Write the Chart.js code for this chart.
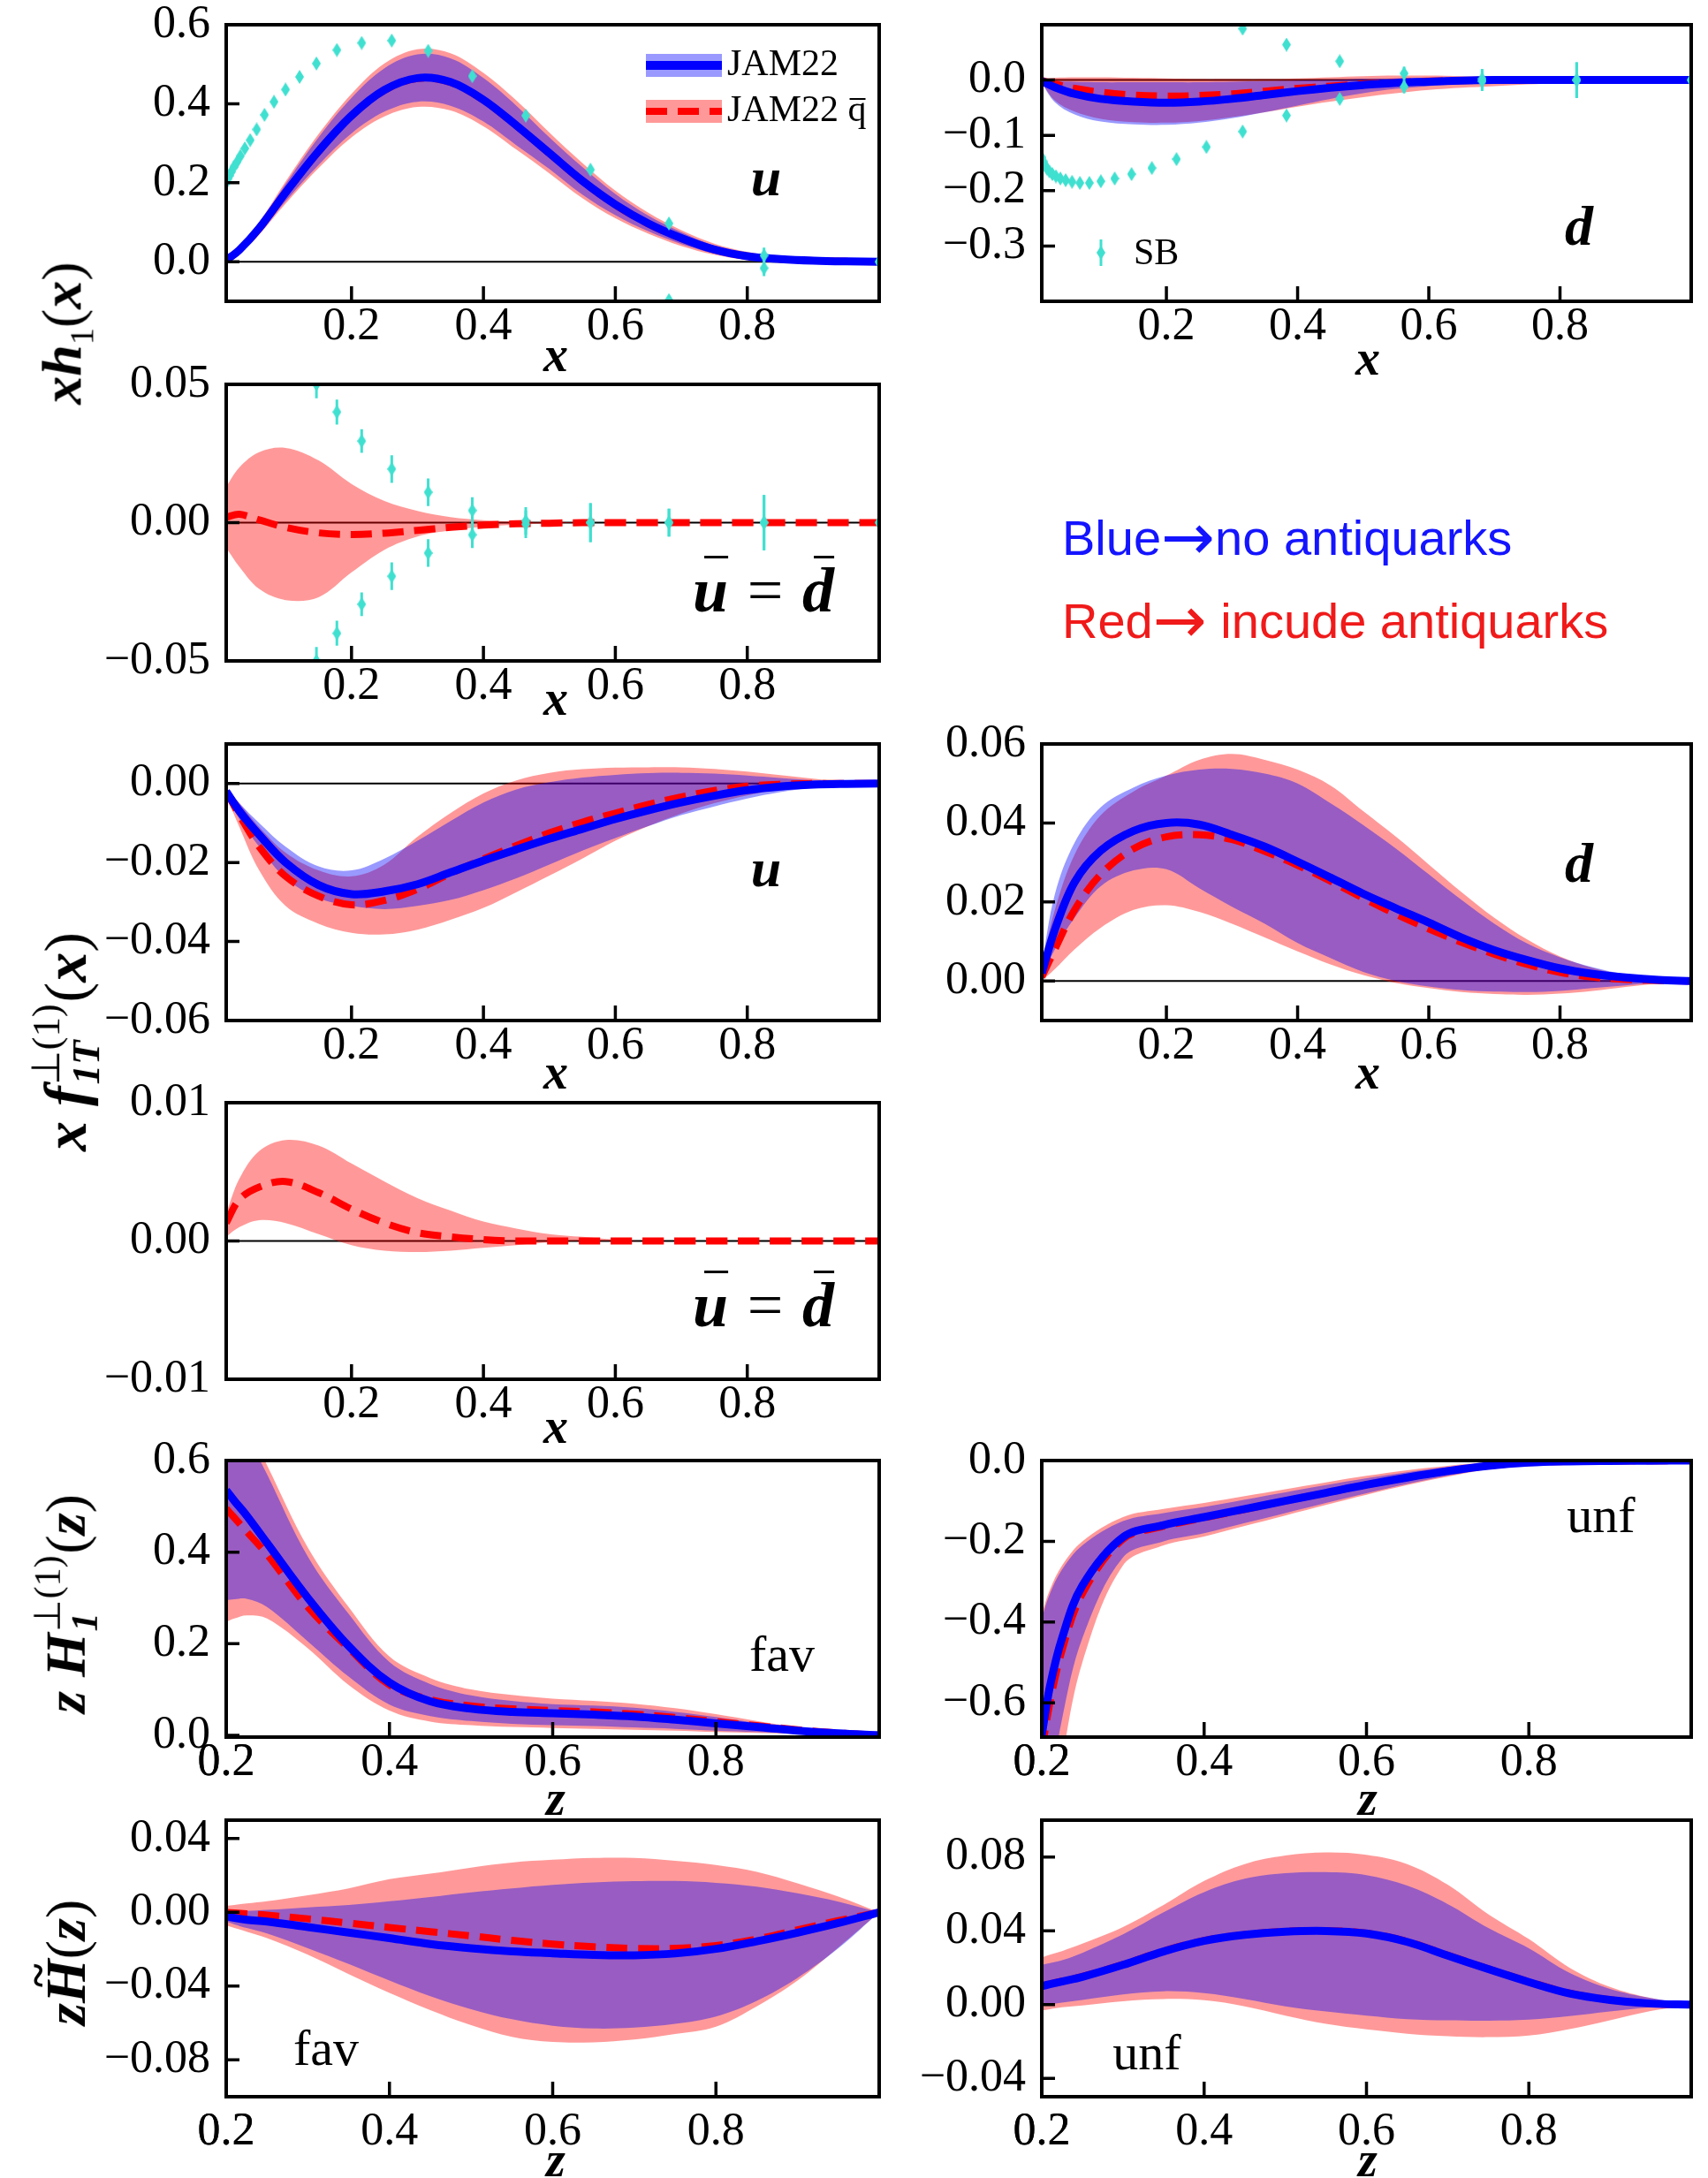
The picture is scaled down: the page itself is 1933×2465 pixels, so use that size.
<!DOCTYPE html>
<html>
<head>
<meta charset="utf-8">
<title>JAM22 transversity, Sivers and Collins functions</title>
<script src="https://cdn.jsdelivr.net/npm/chart.js@4.4.0/dist/chart.umd.min.js"></script>
<style>
  html, body { margin: 0; padding: 0; background: #fff; }
  body { position: relative; width: 1933px; height: 2465px; overflow: hidden; font-family: 'Liberation Serif', serif; }
  canvas.panel { position: absolute; }
  .t { position: absolute; transform: translate(-50%, -50%); white-space: nowrap; color: #000; line-height: 1; z-index: 2; }
  .mi { font-style: italic; font-weight: bold; }
  .yt { transform: translate(-50%, -50%) rotate(-90deg); font-size: 64px; }
  .ss { display: inline-block; vertical-align: -0.34em; font-size: 0.66em; line-height: 1.0; margin: 0 0.04em; }
  .ss span { display: block; }
  .bar { position: relative; display: inline-block; }
  .bar::before { content: ''; position: absolute; left: 0.18em; right: 0.0em; top: -0.04em; border-top: 0.055em solid #000; }
  .tl { position: relative; display: inline-block; }
  .tl::after { content: '~'; position: absolute; left: 0.32em; top: -0.5em; font-size: 0.8em; }
  .note { position: absolute; font-family: 'Liberation Sans', Arial, sans-serif; font-size: 56px; line-height: 1; transform: translateY(-50%); white-space: nowrap; }
  .arr { font-family: 'DejaVu Sans', sans-serif; font-size: 1.3em; line-height: 0.8; vertical-align: -0.06em; }
</style>
</head>
<body>

<!-- left-hand function labels -->
<div class="t yt" style="left:75px;top:377px"><span class="mi">xh</span><sub style="font-size:0.6em">1</sub>(<span class="mi">x</span>)</div>
<div class="t yt" style="left:75px;top:1179px;font-size:68px"><span class="mi">x f</span><span class="ss"><span>⊥(1)</span><span class="mi">1T</span></span>(<span class="mi">x</span>)</div>
<div class="t yt" style="left:75px;top:1815px"><span class="mi">z H</span><span class="ss"><span>⊥(1)</span><span class="mi">1</span></span>(<span class="mi">z</span>)</div>
<div class="t yt" style="left:75px;top:2221px"><span class="mi">z</span><span class="mi tl">H</span>(<span class="mi">z</span>)</div>

<!-- axis titles -->
<div class="t mi" style="left:629px;top:401px;font-size:56px">x</div>
<div class="t mi" style="left:1548px;top:405px;font-size:56px">x</div>
<div class="t mi" style="left:629px;top:790px;font-size:56px">x</div>
<div class="t mi" style="left:629px;top:1213px;font-size:56px">x</div>
<div class="t mi" style="left:1548px;top:1213px;font-size:56px">x</div>
<div class="t mi" style="left:629px;top:1614px;font-size:56px">x</div>
<div class="t mi" style="left:629px;top:2035px;font-size:56px">z</div>
<div class="t mi" style="left:1548px;top:2035px;font-size:56px">z</div>
<div class="t mi" style="left:629px;top:2444px;font-size:56px">z</div>
<div class="t mi" style="left:1548px;top:2444px;font-size:56px">z</div>

<!-- flavour tags inside panels -->
<div class="t mi" style="left:867px;top:200px;font-size:62px">u</div>
<div class="t mi" style="left:1787px;top:256px;font-size:64px">d</div>
<div class="t" style="left:864px;top:668px;font-size:72px"><span class="mi bar">u</span><span style="margin:0 0.3em">=</span><span class="mi bar">d</span></div>
<div class="t mi" style="left:867px;top:982px;font-size:62px">u</div>
<div class="t mi" style="left:1787px;top:977px;font-size:64px">d</div>
<div class="t" style="left:864px;top:1477px;font-size:72px"><span class="mi bar">u</span><span style="margin:0 0.3em">=</span><span class="mi bar">d</span></div>
<div class="t" style="left:885px;top:1872px;font-size:58px">fav</div>
<div class="t" style="left:1812px;top:1715px;font-size:58px">unf</div>
<div class="t" style="left:369px;top:2318px;font-size:58px">fav</div>
<div class="t" style="left:1298px;top:2323px;font-size:58px">unf</div>

<div class="note" style="left:1202px;top:608px;color:#1414ff">Blue<span class="arr">→</span>no antiquarks</div>
<div class="note" style="left:1202px;top:702px;color:#f01a1a">Red<span class="arr">→</span> incude antiquarks</div>

<script>
// ---- sampling grids ----
const xGrid = [0.01, 0.03, 0.06, 0.1, 0.15, 0.2, 0.25, 0.3, 0.35, 0.4, 0.45, 0.5, 0.55, 0.6, 0.65, 0.7, 0.75, 0.8, 0.85, 0.9, 0.95, 1.0];
const zGrid = [0.2, 0.21, 0.225, 0.25, 0.3, 0.35, 0.4, 0.45, 0.5, 0.55, 0.6, 0.65, 0.7, 0.75, 0.8, 0.85, 0.9, 0.95, 1.0];

// ---- transversity x h1(x), u ----
const h1uBlue   = [0.004, 0.03, 0.085, 0.175, 0.28, 0.37, 0.435, 0.465, 0.455, 0.41, 0.345, 0.275, 0.205, 0.145, 0.097, 0.06, 0.031, 0.014, 0.007, 0.003, 0.001, 0];
const h1uBlueHi = [0.006, 0.036, 0.097, 0.197, 0.315, 0.415, 0.49, 0.525, 0.515, 0.465, 0.395, 0.315, 0.24, 0.172, 0.117, 0.075, 0.041, 0.021, 0.012, 0.006, 0.003, 0.001];
const h1uBlueLo = [0.002, 0.024, 0.073, 0.153, 0.245, 0.325, 0.38, 0.405, 0.395, 0.355, 0.295, 0.235, 0.17, 0.118, 0.077, 0.045, 0.021, 0.007, 0.002, 0, -0.001, -0.001];
const h1uRed    = [0.004, 0.03, 0.084, 0.174, 0.279, 0.369, 0.434, 0.464, 0.454, 0.409, 0.344, 0.274, 0.204, 0.144, 0.096, 0.059, 0.031, 0.014, 0.007, 0.003, 0.001, 0];
const h1uRedHi  = [0.007, 0.038, 0.1, 0.203, 0.323, 0.425, 0.502, 0.538, 0.528, 0.478, 0.408, 0.327, 0.25, 0.18, 0.124, 0.08, 0.046, 0.025, 0.014, 0.008, 0.004, 0.001];
const h1uRedLo  = [0.001, 0.022, 0.069, 0.147, 0.237, 0.315, 0.368, 0.392, 0.383, 0.343, 0.284, 0.224, 0.161, 0.11, 0.071, 0.04, 0.018, 0.005, 0, -0.002, -0.002, -0.001];

// ---- transversity, d ----
const h1dBlue   = [-0.002, -0.013, -0.025, -0.034, -0.039, -0.041, -0.039, -0.034, -0.027, -0.02, -0.014, -0.009, -0.005, -0.003, -0.001, 0, 0, 0, 0, 0, 0, 0];
const h1dBlueHi = [0, -0.002, -0.003, -0.004, -0.004, -0.004, -0.004, -0.003, -0.002, -0.001, 0, 0.002, 0.003, 0.004, 0.004, 0.004, 0.003, 0.003, 0.002, 0.001, 0.001, 0];
const h1dBlueLo = [-0.006, -0.04, -0.062, -0.075, -0.08, -0.081, -0.077, -0.069, -0.058, -0.046, -0.034, -0.024, -0.016, -0.011, -0.007, -0.005, -0.004, -0.003, -0.002, -0.002, -0.001, 0];
const h1dRed    = [-0.001, -0.007, -0.015, -0.022, -0.027, -0.029, -0.028, -0.025, -0.02, -0.015, -0.011, -0.007, -0.004, -0.002, -0.001, 0, 0, 0, 0, 0, 0, 0];
const h1dRedHi  = [0.002, 0.004, 0.005, 0.005, 0.004, 0.003, 0.002, 0.002, 0.002, 0.003, 0.005, 0.007, 0.008, 0.008, 0.007, 0.006, 0.005, 0.004, 0.003, 0.002, 0.001, 0];
const h1dRedLo  = [-0.005, -0.037, -0.057, -0.07, -0.076, -0.077, -0.074, -0.067, -0.058, -0.048, -0.039, -0.031, -0.024, -0.018, -0.014, -0.011, -0.008, -0.006, -0.004, -0.003, -0.001, 0];

// ---- transversity, sea (ubar = dbar) ----
const h1sRed    = [0.002, 0.003, 0.001, -0.0017, -0.0037, -0.0043, -0.0038, -0.0028, -0.0017, -0.0009, -0.0004, -0.0002, 0, 0, 0, 0, 0, 0, 0, 0, 0, 0];
const h1sRedHi  = [0.013, 0.02, 0.0255, 0.027, 0.0225, 0.014, 0.0078, 0.0042, 0.002, 0.0009, 0.0004, 0.0002, 0.0001, 0, 0, 0, 0, 0, 0, 0, 0, 0];
const h1sRedLo  = [-0.009, -0.016, -0.024, -0.028, -0.027, -0.018, -0.0098, -0.005, -0.0028, -0.0014, -0.0007, -0.0003, -0.0001, 0, 0, 0, 0, 0, 0, 0, 0, 0];

// ---- Soffer bound points (plotted as +/-) ----
const sbX    = [0.0100, 0.0121, 0.0147, 0.0178, 0.0215, 0.0261, 0.0316, 0.0383, 0.0464, 0.0562, 0.0681, 0.0825, 0.1000, 0.1212, 0.1468, 0.1778, 0.2154, 0.2610, 0.3162, 0.3831, 0.4642, 0.5623, 0.6813, 0.8254, 1.0000];
const sbU    = [0.2, 0.21, 0.218, 0.228, 0.24, 0.252, 0.268, 0.287, 0.308, 0.335, 0.372, 0.405, 0.436, 0.468, 0.502, 0.536, 0.554, 0.56, 0.534, 0.47, 0.37, 0.233, 0.097, 0.016, 0];
const sbUErr = [0.003, 0.003, 0.003, 0.003, 0.003, 0.003, 0.003, 0.003, 0.003, 0.003, 0.003, 0.003, 0.003, 0.003, 0.003, 0.003, 0.004, 0.004, 0.005, 0.005, 0.006, 0.007, 0.008, 0.02, 0.005];
const sbD    = [0.14, 0.147, 0.154, 0.16, 0.165, 0.17, 0.174, 0.178, 0.181, 0.184, 0.186, 0.186, 0.183, 0.178, 0.17, 0.159, 0.143, 0.121, 0.093, 0.064, 0.034, 0.012, 0.002, 0.0005, 0];
const sbDErr = [0.003, 0.003, 0.003, 0.003, 0.003, 0.003, 0.003, 0.003, 0.003, 0.003, 0.003, 0.003, 0.003, 0.004, 0.004, 0.004, 0.005, 0.005, 0.006, 0.007, 0.008, 0.012, 0.018, 0.032, 0.01];
const sbS    = [null, null, null, null, null, null, null, null, null, null, null, null, null, null, 0.05, 0.04, 0.0295, 0.0194, 0.011, 0.0044, 0.0006, 0, 0, 0, 0];
const sbSErr = [0, 0, 0, 0, 0, 0, 0, 0, 0, 0, 0, 0, 0, 0, 0.005, 0.0045, 0.0043, 0.005, 0.005, 0.0048, 0.005, 0.007, 0.005, 0.01, 0.002];

// ---- Sivers x f1T(1)(x), u ----
const f1uBlue   = [-0.002, -0.007, -0.013, -0.02, -0.0257, -0.028, -0.0273, -0.0255, -0.0225, -0.0195, -0.0167, -0.014, -0.0115, -0.009, -0.0068, -0.0048, -0.0031, -0.0017, -0.0008, -0.0003, -0.0001, 0];
const f1uBlueHi = [-0.001, -0.005, -0.01, -0.016, -0.021, -0.022, -0.019, -0.0145, -0.0095, -0.0048, -0.0015, 0.0003, 0.0015, 0.0022, 0.0026, 0.0027, 0.0025, 0.002, 0.0014, 0.0008, 0.0003, 0];
const f1uBlueLo = [-0.003, -0.009, -0.016, -0.024, -0.029, -0.031, -0.0318, -0.031, -0.0295, -0.027, -0.024, -0.0205, -0.017, -0.0138, -0.0108, -0.008, -0.0058, -0.0038, -0.0022, -0.001, -0.0004, 0];
const f1uRed    = [-0.002, -0.008, -0.016, -0.0235, -0.0285, -0.0307, -0.0296, -0.0268, -0.0228, -0.0191, -0.0157, -0.0125, -0.0098, -0.0075, -0.0053, -0.0034, -0.0018, -0.0007, -0.0002, 0, 0, 0];
const f1uRedHi  = [-0.001, -0.005, -0.011, -0.0175, -0.022, -0.0235, -0.0205, -0.0135, -0.0075, -0.0025, 0.0008, 0.0027, 0.0036, 0.004, 0.0041, 0.0041, 0.0037, 0.003, 0.0021, 0.0012, 0.0004, 0];
const f1uRedLo  = [-0.003, -0.011, -0.022, -0.031, -0.0355, -0.0378, -0.0382, -0.037, -0.0345, -0.0315, -0.0275, -0.0233, -0.019, -0.0145, -0.0108, -0.0076, -0.005, -0.003, -0.0016, -0.0007, -0.0002, 0];

// ---- Sivers, d ----
const f1dBlue   = [0.002, 0.013, 0.025, 0.033, 0.038, 0.04, 0.0396, 0.037, 0.034, 0.0302, 0.0262, 0.0221, 0.0184, 0.0148, 0.011, 0.0078, 0.0053, 0.0032, 0.0018, 0.0009, 0.0003, 0];
const f1dBlueHi = [0.004, 0.022, 0.035, 0.044, 0.049, 0.052, 0.0535, 0.0537, 0.0525, 0.05, 0.045, 0.0395, 0.0335, 0.027, 0.0205, 0.0145, 0.0095, 0.006, 0.0035, 0.0017, 0.0006, 0];
const f1dBlueLo = [0.001, 0.008, 0.016, 0.024, 0.028, 0.0283, 0.0235, 0.0188, 0.0145, 0.0096, 0.0058, 0.0023, 0, -0.0014, -0.0023, -0.0027, -0.0028, -0.0025, -0.0018, -0.0011, -0.0004, 0];
const f1dRed    = [0.001, 0.008, 0.018, 0.027, 0.0335, 0.0365, 0.037, 0.0358, 0.0328, 0.0293, 0.0253, 0.021, 0.0169, 0.0132, 0.0098, 0.0068, 0.0042, 0.0022, 0.001, 0.0004, 0.0001, 0];
const f1dRedHi  = [0.004, 0.018, 0.032, 0.042, 0.048, 0.052, 0.056, 0.0575, 0.056, 0.0535, 0.0495, 0.043, 0.0365, 0.0295, 0.0225, 0.016, 0.0105, 0.0062, 0.0033, 0.0015, 0.0005, 0];
const f1dRedLo  = [0, 0.003, 0.008, 0.0135, 0.018, 0.0192, 0.0175, 0.0145, 0.011, 0.0075, 0.0042, 0.0015, -0.0005, -0.0018, -0.0028, -0.0033, -0.0035, -0.0032, -0.0025, -0.0015, -0.0006, 0];

// ---- Sivers, sea ----
const f1sRed    = [0.0013, 0.003, 0.0039, 0.0043, 0.0035, 0.0023, 0.0013, 0.0006, 0.0003, 0.0001, 0, 0, 0, 0, 0, 0, 0, 0, 0, 0, 0, 0];
const f1sRedHi  = [0.002, 0.0045, 0.0065, 0.0073, 0.0069, 0.0056, 0.0043, 0.0031, 0.0022, 0.0014, 0.0009, 0.0005, 0.0003, 0.0001, 0, 0, 0, 0, 0, 0, 0, 0];
const f1sRedLo  = [0.0003, 0.001, 0.0015, 0.0013, 0.0005, -0.0003, -0.0007, -0.0008, -0.0007, -0.0005, -0.0003, -0.0001, 0, 0, 0, 0, 0, 0, 0, 0, 0, 0];

// ---- Collins z H1(1)(z), favored ----
const hFavBlue   = [0.535, 0.512, 0.48, 0.42, 0.3, 0.195, 0.115, 0.074, 0.058, 0.051, 0.048, 0.045, 0.041, 0.034, 0.026, 0.018, 0.01, 0.004, 0];
const hFavBlueHi = [0.76, 0.72, 0.66, 0.57, 0.39, 0.265, 0.16, 0.112, 0.087, 0.075, 0.068, 0.065, 0.06, 0.051, 0.04, 0.027, 0.015, 0.006, 0];
const hFavBlueLo = [0.295, 0.297, 0.298, 0.28, 0.205, 0.128, 0.067, 0.042, 0.031, 0.025, 0.022, 0.02, 0.017, 0.014, 0.01, 0.007, 0.004, 0.001, 0];
const hFavRed    = [0.495, 0.475, 0.445, 0.395, 0.28, 0.19, 0.11, 0.078, 0.064, 0.058, 0.054, 0.051, 0.046, 0.039, 0.03, 0.021, 0.012, 0.005, 0];
const hFavRedHi  = [0.78, 0.74, 0.68, 0.59, 0.41, 0.28, 0.172, 0.125, 0.1, 0.088, 0.08, 0.075, 0.069, 0.059, 0.046, 0.031, 0.017, 0.007, 0];
const hFavRedLo  = [0.248, 0.255, 0.262, 0.255, 0.19, 0.11, 0.054, 0.03, 0.022, 0.018, 0.016, 0.014, 0.012, 0.01, 0.007, 0.005, 0.003, 0.001, 0];

// ---- Collins, unfavored ----
const hUnfBlue   = [-0.68, -0.56, -0.44, -0.31, -0.19, -0.16, -0.14, -0.12, -0.1, -0.08, -0.06, -0.042, -0.026, -0.013, -0.005, -0.002, -0.001, -0.0005, 0];
const hUnfBlueHi = [-0.39, -0.33, -0.27, -0.21, -0.15, -0.13, -0.115, -0.097, -0.079, -0.061, -0.044, -0.029, -0.016, -0.007, -0.002, -0.001, 0, 0, 0];
const hUnfBlueLo = [-0.95, -0.82, -0.64, -0.44, -0.24, -0.2, -0.18, -0.155, -0.13, -0.105, -0.081, -0.058, -0.038, -0.021, -0.01, -0.004, -0.002, -0.001, 0];
const hUnfRed    = [-0.72, -0.6, -0.47, -0.33, -0.195, -0.163, -0.142, -0.121, -0.1, -0.08, -0.06, -0.042, -0.026, -0.013, -0.005, -0.002, -0.001, -0.0005, 0];
const hUnfRedHi  = [-0.38, -0.32, -0.26, -0.2, -0.14, -0.12, -0.105, -0.088, -0.071, -0.054, -0.038, -0.024, -0.013, -0.005, -0.001, 0, 0, 0, 0];
const hUnfRedLo  = [-1.05, -0.92, -0.74, -0.5, -0.26, -0.21, -0.188, -0.162, -0.136, -0.11, -0.085, -0.061, -0.04, -0.022, -0.011, -0.005, -0.002, -0.001, 0];

// ---- z H~(z), favored ----
const htFavBlue   = [-0.002, -0.003, -0.004, -0.005, -0.008, -0.011, -0.014, -0.0172, -0.0195, -0.0212, -0.0222, -0.0231, -0.0233, -0.0223, -0.0198, -0.0157, -0.011, -0.0058, 0];
const htFavBlueHi = [0, 0.0003, 0.0007, 0.0013, 0.0027, 0.004, 0.006, 0.0083, 0.0108, 0.013, 0.0149, 0.0162, 0.0169, 0.017, 0.016, 0.0139, 0.0103, 0.0058, 0];
const htFavBlueLo = [-0.005, -0.0065, -0.0085, -0.0115, -0.0195, -0.028, -0.037, -0.0455, -0.0525, -0.058, -0.0615, -0.063, -0.0625, -0.0605, -0.0565, -0.048, -0.0355, -0.0195, 0];
const htFavRed    = [0, -0.0003, -0.0008, -0.0015, -0.0035, -0.0058, -0.0082, -0.0105, -0.0128, -0.0152, -0.0172, -0.0187, -0.0196, -0.0195, -0.018, -0.0145, -0.0095, -0.0045, 0];
const htFavRedHi  = [0.0035, 0.004, 0.0048, 0.006, 0.0093, 0.013, 0.018, 0.021, 0.0243, 0.027, 0.0285, 0.0295, 0.0295, 0.028, 0.0257, 0.022, 0.0157, 0.0085, 0];
const htFavRedLo  = [-0.007, -0.0085, -0.0105, -0.014, -0.023, -0.0335, -0.0437, -0.053, -0.0612, -0.0675, -0.0703, -0.0705, -0.069, -0.066, -0.062, -0.051, -0.037, -0.019, 0];

// ---- z H~(z), unfavored ----
const htUnfBlue   = [0.01, 0.011, 0.0125, 0.015, 0.0215, 0.0288, 0.0345, 0.0378, 0.0395, 0.0399, 0.0385, 0.034, 0.0266, 0.0192, 0.0122, 0.006, 0.0025, 0.0005, 0];
const htUnfBlueHi = [0.0215, 0.0225, 0.024, 0.028, 0.038, 0.05, 0.061, 0.0682, 0.0712, 0.0718, 0.0702, 0.0645, 0.0545, 0.0415, 0.0305, 0.0172, 0.0085, 0.0035, 0];
const htUnfBlueLo = [-0.0008, 0, 0.001, 0.0025, 0.0055, 0.0072, 0.0062, 0.003, -0.001, -0.0038, -0.006, -0.0079, -0.0086, -0.0088, -0.0082, -0.0063, -0.0038, -0.0015, 0];
const htUnfRed    = [0.0102, 0.0112, 0.0127, 0.0152, 0.0217, 0.029, 0.0347, 0.038, 0.0397, 0.0401, 0.0387, 0.0342, 0.0268, 0.0194, 0.0124, 0.0062, 0.0026, 0.0005, 0];
const htUnfRedHi  = [0.0255, 0.027, 0.029, 0.033, 0.042, 0.054, 0.067, 0.0762, 0.0808, 0.0825, 0.0812, 0.0762, 0.065, 0.049, 0.0355, 0.02, 0.0095, 0.0035, 0];
const htUnfRedLo  = [-0.0032, -0.0025, -0.0015, -0.0005, 0.0018, 0.003, 0.0023, -0.001, -0.006, -0.0105, -0.0135, -0.0158, -0.0172, -0.0177, -0.0168, -0.0133, -0.0085, -0.0035, 0];

// ---- tick values ----
const xTickVals = [0.2, 0.4, 0.6, 0.8];

// ---- styling ----
const BLUE = '#0000ff', RED = '#ff0000', CYAN = '#40e0d0';
const BLUE_BAND = 'rgba(0, 0, 255, 0.4)', RED_BAND = 'rgba(255, 0, 0, 0.4)';
const SERIF = "'Liberation Serif', 'Times New Roman', serif";

Chart.defaults.font.family = SERIF;
Chart.defaults.color = '#000';

function fmt(v, d) {
  return (Math.abs(v) < 1e-12 ? 0 : v).toFixed(d).replace('-', '\u2212');
}
function pts(xs, ys) { return xs.map((x, i) => ({ x, y: ys[i] })); }
function neg(ys) { return ys.map(v => v == null ? null : -v); }

function thinDiamond(w, h, color) {
  const c = document.createElement('canvas');
  c.width = w; c.height = h;
  const g = c.getContext('2d');
  g.fillStyle = color;
  g.beginPath();
  g.moveTo(w / 2, 0); g.lineTo(w, h / 2); g.lineTo(w / 2, h); g.lineTo(0, h / 2);
  g.closePath(); g.fill();
  return c;
}
const diamond = thinDiamond(10, 16, CYAN);

// zero line under the data; frame, inward ticks and tick labels on top
const frameTicks = {
  id: 'frameTicks',
  beforeDatasetsDraw(chart, args, opts) {
    if (!opts.zero) return;
    const { ctx, chartArea: a, scales: { y } } = chart;
    const py = y.getPixelForValue(0);
    ctx.save();
    ctx.strokeStyle = '#000'; ctx.lineWidth = 2;
    ctx.beginPath(); ctx.moveTo(a.left, py); ctx.lineTo(a.right, py); ctx.stroke();
    ctx.restore();
  },
  afterDatasetsDraw(chart, args, opts) {
    const { ctx, chartArea: a, scales: { x, y } } = chart;
    ctx.save();
    ctx.strokeStyle = '#000'; ctx.lineWidth = 3.5;
    ctx.beginPath();
    y.ticks.forEach(t => { const p = y.getPixelForValue(t.value); ctx.moveTo(a.left, p); ctx.lineTo(a.left + 15, p); });
    x.ticks.forEach(t => { const p = x.getPixelForValue(t.value); ctx.moveTo(p, a.bottom); ctx.lineTo(p, a.bottom - 17); });
    ctx.stroke();
    ctx.lineWidth = 4;
    ctx.strokeRect(a.left, a.top, a.right - a.left, a.bottom - a.top);

    ctx.font = '52px ' + SERIF;
    ctx.fillStyle = '#000';
    ctx.textBaseline = 'middle';
    ctx.textAlign = 'right';
    y.ticks.forEach(t => ctx.fillText(fmt(t.value, opts.dec), a.left - 18, y.getPixelForValue(t.value)));
    ctx.textAlign = 'center';
    x.ticks.forEach(t => ctx.fillText(fmt(t.value, 1), x.getPixelForValue(t.value), a.bottom + opts.xOff));
    ctx.restore();
  }
};

// vertical error bars for datasets carrying an `errors` array
const errorBars = {
  id: 'errorBars',
  afterDatasetDraw(chart, args) {
    const ds = chart.data.datasets[args.index];
    if (!ds.errors) return;
    const { ctx, chartArea: a, scales: { x, y } } = chart;
    ctx.save();
    ctx.beginPath(); ctx.rect(a.left, a.top, a.right - a.left, a.bottom - a.top); ctx.clip();
    ctx.strokeStyle = ds.borderColor; ctx.lineWidth = 3;
    ctx.beginPath();
    ds.data.forEach((p, i) => {
      if (p.y == null || !ds.errors[i]) return;
      const px = x.getPixelForValue(p.x);
      ctx.moveTo(px, y.getPixelForValue(p.y - ds.errors[i]));
      ctx.lineTo(px, y.getPixelForValue(p.y + ds.errors[i]));
    });
    ctx.stroke();
    ctx.restore();
  }
};

// hand-drawn legends (band + line patches, SB marker)
const panelLegend = {
  id: 'panelLegend',
  afterDatasetsDraw(chart, args, opts) {
    if (!opts.kind) return;
    const { ctx, chartArea: a } = chart;
    ctx.save();
    ctx.font = '42px ' + SERIF;
    ctx.textBaseline = 'middle';
    if (opts.kind === 'jam') {
      const x0 = a.left + 475, x1 = a.left + 561;
      const rows = [
        { y: a.top + 46, band: BLUE_BAND, line: BLUE, dash: [], lw: 10 },
        { y: a.top + 98, band: RED_BAND, line: RED, dash: [24, 12], lw: 8 }
      ];
      rows.forEach(r => {
        ctx.fillStyle = r.band;
        ctx.fillRect(x0, r.y - 13, x1 - x0, 26);
        ctx.strokeStyle = r.line; ctx.lineWidth = r.lw; ctx.setLineDash(r.dash);
        ctx.beginPath(); ctx.moveTo(x0, r.y); ctx.lineTo(x1, r.y); ctx.stroke();
      });
      ctx.setLineDash([]);
      ctx.fillStyle = '#000';
      ctx.fillText('JAM22', x1 + 6, rows[0].y);
      ctx.fillText('JAM22', x1 + 6, rows[1].y);
      const qx = x1 + 6 + ctx.measureText('JAM22 ').width;
      ctx.fillText('q', qx, rows[1].y);
      const qw = ctx.measureText('q').width;
      ctx.strokeStyle = '#000'; ctx.lineWidth = 2;
      ctx.beginPath(); ctx.moveTo(qx + 2, rows[1].y - 14); ctx.lineTo(qx + qw - 1, rows[1].y - 14); ctx.stroke();
    } else if (opts.kind === 'sb') {
      const mx = a.left + 67, my = a.top + 258;
      ctx.strokeStyle = CYAN; ctx.lineWidth = 3;
      ctx.beginPath(); ctx.moveTo(mx, my - 15); ctx.lineTo(mx, my + 15); ctx.stroke();
      ctx.drawImage(diamond, mx - diamond.width / 2, my - diamond.height / 2);
      ctx.fillStyle = '#000';
      ctx.fillText('SB', a.left + 104, my + 2);
    }
    ctx.restore();
  }
};

const L = { left: 256, w: 739 }, R = { left: 1179, w: 735 };
const rowTop = [28, 435, 842, 1248, 1653, 2060];
const H = 313;

const panels = [
  { col: L, row: 0, x: [0.01, 1], y: [-0.1, 0.6], yTicks: [0, 0.2, 0.4, 0.6], dec: 1, zero: true, grid: xGrid,
    blue: [h1uBlue, h1uBlueLo, h1uBlueHi], red: [h1uRed, h1uRedLo, h1uRedHi], sb: [sbU, sbUErr], legend: 'jam' },
  { col: R, row: 0, x: [0.01, 1], y: [-0.4, 0.1], yTicks: [-0.3, -0.2, -0.1, 0], dec: 1, zero: true, grid: xGrid,
    blue: [h1dBlue, h1dBlueLo, h1dBlueHi], red: [h1dRed, h1dRedLo, h1dRedHi], sb: [sbD, sbDErr], legend: 'sb' },
  { col: L, row: 1, x: [0.01, 1], y: [-0.05, 0.05], yTicks: [-0.05, 0, 0.05], dec: 2, zero: true, grid: xGrid,
    red: [h1sRed, h1sRedLo, h1sRedHi], sb: [sbS, sbSErr] },
  { col: L, row: 2, x: [0.01, 1], y: [-0.06, 0.01], yTicks: [-0.06, -0.04, -0.02, 0], dec: 2, zero: true, grid: xGrid,
    blue: [f1uBlue, f1uBlueLo, f1uBlueHi], red: [f1uRed, f1uRedLo, f1uRedHi] },
  { col: R, row: 2, x: [0.01, 1], y: [-0.01, 0.06], yTicks: [0, 0.02, 0.04, 0.06], dec: 2, zero: true, grid: xGrid,
    blue: [f1dBlue, f1dBlueLo, f1dBlueHi], red: [f1dRed, f1dRedLo, f1dRedHi] },
  { col: L, row: 3, x: [0.01, 1], y: [-0.01, 0.01], yTicks: [-0.01, 0, 0.01], dec: 2, zero: true, grid: xGrid,
    red: [f1sRed, f1sRedLo, f1sRedHi] },
  { col: L, row: 4, x: [0.2, 1], y: [-0.004, 0.6], yTicks: [0, 0.2, 0.4, 0.6], dec: 1, grid: zGrid, zAxis: true,
    blue: [hFavBlue, hFavBlueLo, hFavBlueHi], red: [hFavRed, hFavRedLo, hFavRedHi] },
  { col: R, row: 4, x: [0.2, 1], y: [-0.685, 0.0], yTicks: [-0.6, -0.4, -0.2, 0], dec: 1, grid: zGrid, zAxis: true,
    blue: [hUnfBlue, hUnfBlueLo, hUnfBlueHi], red: [hUnfRed, hUnfRedLo, hUnfRedHi] },
  { col: L, row: 5, x: [0.2, 1], y: [-0.1, 0.05], yTicks: [-0.08, -0.04, 0, 0.04], dec: 2, grid: zGrid, zAxis: true, xOff: 40,
    blue: [htFavBlue, htFavBlueLo, htFavBlueHi], red: [htFavRed, htFavRedLo, htFavRedHi] },
  { col: R, row: 5, x: [0.2, 1], y: [-0.05, 0.1], yTicks: [-0.04, 0, 0.04, 0.08], dec: 2, grid: zGrid, zAxis: true, xOff: 40,
    blue: [htUnfBlue, htUnfBlueLo, htUnfBlueHi], red: [htUnfRed, htUnfRedLo, htUnfRedHi] }
];

function buildPanel(p) {
  const padTop = 40, padRight = 14, yw = 150, xh = 80;
  const top = rowTop[p.row];
  const cv = document.createElement('canvas');
  cv.className = 'panel';
  cv.width = p.col.w + yw + padRight;
  cv.height = H + padTop + xh;
  cv.style.left = (p.col.left - yw) + 'px';
  cv.style.top = (top - padTop) + 'px';
  document.body.appendChild(cv);

  const base = { pointRadius: 0, tension: 0.35, clip: 0, fill: false };
  const ds = [];
  const band = (lo, hi, color, order) => {
    ds.push({ ...base, data: pts(p.grid, lo), borderWidth: 0, borderColor: 'rgba(0,0,0,0)', order });
    ds.push({ ...base, data: pts(p.grid, hi), borderWidth: 0, borderColor: 'rgba(0,0,0,0)', fill: '-1', backgroundColor: color, order });
  };
  if (p.red) band(p.red[1], p.red[2], RED_BAND, 5);
  if (p.blue) band(p.blue[1], p.blue[2], BLUE_BAND, 4);
  if (p.red) ds.push({ ...base, data: pts(p.grid, p.red[0]), borderColor: RED, borderWidth: 8, borderDash: [24, 12], order: 1 });
  if (p.blue) ds.push({ ...base, data: pts(p.grid, p.blue[0]), borderColor: BLUE, borderWidth: 9, order: 0 });
  if (p.sb) {
    [p.sb[0], neg(p.sb[0])].forEach(vals => ds.push({
      data: pts(sbX, vals), errors: p.sb[1], showLine: false, pointStyle: diamond, pointRadius: 8,
      borderColor: CYAN, backgroundColor: CYAN, order: -1, clip: 0
    }));
  }

  new Chart(cv, {
    type: 'line',
    data: { datasets: ds },
    options: {
      responsive: false, animation: false, devicePixelRatio: 1,
      layout: { padding: { top: padTop, right: padRight, left: 0, bottom: 0 } },
      plugins: {
        legend: { display: false }, tooltip: { enabled: false },
        frameTicks: { zero: !!p.zero, dec: p.dec, xOff: p.xOff || 29 },
        panelLegend: { kind: p.legend || null }
      },
      scales: {
        x: {
          type: 'linear', min: p.x[0], max: p.x[1],
          afterBuildTicks: s => { s.ticks = (p.zAxis ? [0.2].concat(xTickVals) : xTickVals).map(v => ({ value: v })); },
          afterFit: s => { s.height = xh; },
          grid: { display: false, drawTicks: false }, border: { display: false },
          ticks: { display: false }
        },
        y: {
          type: 'linear', min: p.y[0], max: p.y[1],
          afterBuildTicks: s => { s.ticks = p.yTicks.map(v => ({ value: v })); },
          afterFit: s => { s.width = yw; },
          grid: { display: false, drawTicks: false }, border: { display: false },
          ticks: { display: false }
        }
      }
    },
    plugins: [frameTicks, errorBars, panelLegend]
  });
}

panels.forEach(buildPanel);
</script>
</body>
</html>
